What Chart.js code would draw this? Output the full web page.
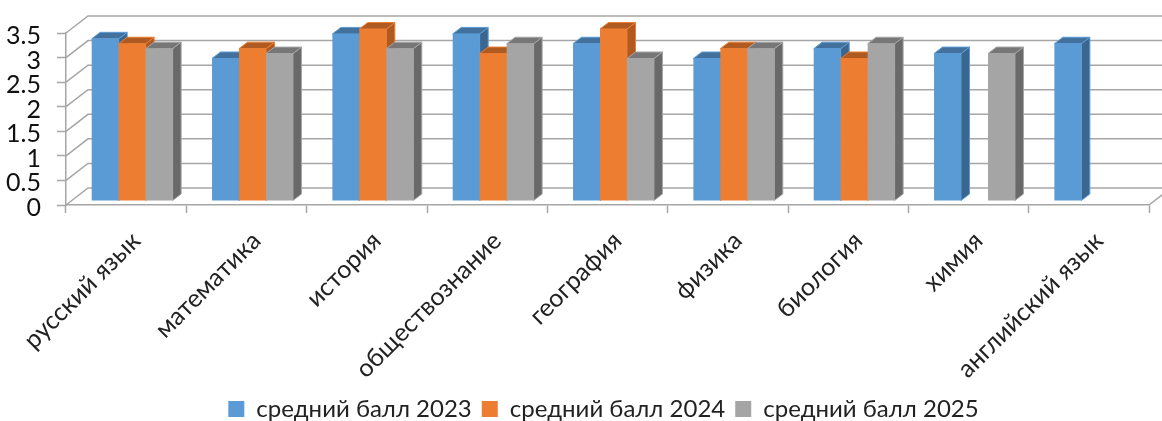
<!DOCTYPE html>
<html>
<head>
<meta charset="utf-8">
<style>
  html, body { margin: 0; padding: 0; background: #fff; overflow: hidden; }
  canvas { display: block; }
</style>
<script src="https://cdn.jsdelivr.net/npm/chart.js@4"></script>
</head>
<body>
<canvas id="chart" width="1162" height="421"></canvas>
<script>
const categories = ['русский язык', 'математика', 'история', 'обществознание', 'география', 'физика', 'биология', 'химия', 'английский язык'];
const values2023 = [3.3, 2.9, 3.4, 3.4, 3.2, 2.9, 3.1, 3.0, 3.2];
const values2024 = [3.2, 3.1, 3.5, 3.0, 3.5, 3.1, 2.9, null, null];
const values2025 = [3.1, 3.0, 3.1, 3.2, 2.9, 3.1, 3.2, 3.0, null];

const gridColor = '#a6a6a6';
const fontFamily = 'Lato, sans-serif';
// depth of the fake 3d walls and bars
const wallDepth = { x: 22, y: 17 };
const barDepth = { x: 8.5, y: 6.5 };
const barShift = { x: 6, y: -4 };
const legendDrop = 10;
const legendShift = 29;
const faceColors = [
    { top: '#41719c', side: '#3a6690' },
    { top: '#ae5a21', side: '#ae5a21' },
    { top: '#777777', side: '#696969' }
];

function drawWalls(chart) {
    const ctx = chart.ctx;
    const area = chart.chartArea;
    const y = chart.scales.y;
    ctx.save();
    ctx.strokeStyle = gridColor;
    ctx.lineWidth = 1.5;
    y.ticks.forEach(function (tick) {
        const py = y.getPixelForValue(tick.value);
        ctx.beginPath();
        ctx.moveTo(area.left, py);
        ctx.lineTo(area.left + wallDepth.x, py - wallDepth.y);
        ctx.lineTo(chart.width, py - wallDepth.y);
        ctx.stroke();
    });
    ctx.beginPath();
    ctx.moveTo(area.right, area.bottom);
    ctx.lineTo(area.right + wallDepth.x, area.bottom - wallDepth.y);
    ctx.stroke();
    ctx.restore();
}

function drawFaces(chart, meta) {
    const ctx = chart.ctx;
    const faces = faceColors[meta.index];
    const dataset = chart.data.datasets[meta.index];
    meta.data.forEach(function (bar, i) {
        if (dataset.data[i] === null) {
            return;
        }
        const p = bar.getProps(['x', 'y', 'base', 'width'], true);
        const right = p.x + p.width / 2;
        const left = p.x - p.width / 2;
        ctx.strokeStyle = dataset.backgroundColor;
        ctx.lineWidth = 1;
        ctx.fillStyle = faces.side;
        ctx.beginPath();
        ctx.moveTo(right, p.y);
        ctx.lineTo(right + barDepth.x, p.y - barDepth.y);
        ctx.lineTo(right + barDepth.x, p.base - barDepth.y);
        ctx.lineTo(right, p.base);
        ctx.closePath();
        ctx.fill();
        ctx.stroke();
        ctx.fillStyle = faces.top;
        ctx.beginPath();
        ctx.moveTo(left, p.y);
        ctx.lineTo(left + barDepth.x, p.y - barDepth.y);
        ctx.lineTo(right + barDepth.x, p.y - barDepth.y);
        ctx.lineTo(right, p.y);
        ctx.closePath();
        ctx.fill();
        ctx.stroke();
    });
}

const bars3d = {
    id: 'bars3d',
    // legend sits right of the canvas centre in the original
    afterLayout: function (chart) {
        chart.legend.left += legendShift;
        chart.legend.right += legendShift;
    },
    // chart.js paints the last dataset first, here the series must go left to right
    beforeDatasetsDraw: function (chart) {
        const ctx = chart.ctx;
        drawWalls(chart);
        ctx.save();
        ctx.translate(barShift.x, barShift.y);
        chart.getSortedVisibleDatasetMetas().forEach(function (meta) {
            drawFaces(chart, meta);
            meta.controller.draw();
        });
        ctx.restore();
        return false;
    }
};

new Chart(document.getElementById('chart'), {
    type: 'bar',
    plugins: [bars3d],
    data: {
        labels: categories,
        datasets: [
            { label: 'средний балл 2023', data: values2023, backgroundColor: '#5b9bd5' },
            { label: 'средний балл 2024', data: values2024, backgroundColor: '#ed7d31' },
            { label: 'средний балл 2025', data: values2025, backgroundColor: '#a5a5a5' }
        ]
    },
    options: {
        responsive: false,
        animation: false,
        categoryPercentage: 0.6725,
        barPercentage: 1,
        layout: {
            padding: { top: 33, right: 13, bottom: -legendDrop, left: 0 }
        },
        plugins: {
            tooltip: { enabled: false },
            legend: {
                position: 'bottom',
                labels: {
                    boxWidth: 16,
                    boxHeight: 16,
                    padding: 10,
                    color: '#222',
                    font: { family: fontFamily, size: 24 }
                }
            }
        },
        scales: {
            x: {
                afterFit: function (scale) {
                    scale.height = 421 - 205 - scale.chart.legend.height + legendDrop;
                },
                border: { color: gridColor, width: 1.5 },
                grid: { drawOnChartArea: false, tickLength: 8, tickColor: gridColor, tickWidth: 1.5 },
                ticks: {
                    autoSkip: false,
                    minRotation: 45,
                    maxRotation: 45,
                    padding: 13,
                    labelOffset: 10,
                    color: '#222',
                    font: { family: fontFamily, size: 25 }
                }
            },
            y: {
                min: 0,
                max: 3.5,
                afterFit: function (scale) {
                    scale.width = 66;
                },
                border: { color: gridColor, width: 1.5 },
                grid: { drawOnChartArea: false, tickLength: 9, tickColor: gridColor, tickWidth: 1.5 },
                ticks: {
                    autoSkip: false,
                    stepSize: 0.5,
                    padding: 16,
                    labelOffset: 3,
                    color: '#111',
                    font: { family: fontFamily, size: 25 },
                    callback: function (value) {
                        return String(value);
                    }
                }
            }
        }
    }
});
</script>
</body>
</html>
